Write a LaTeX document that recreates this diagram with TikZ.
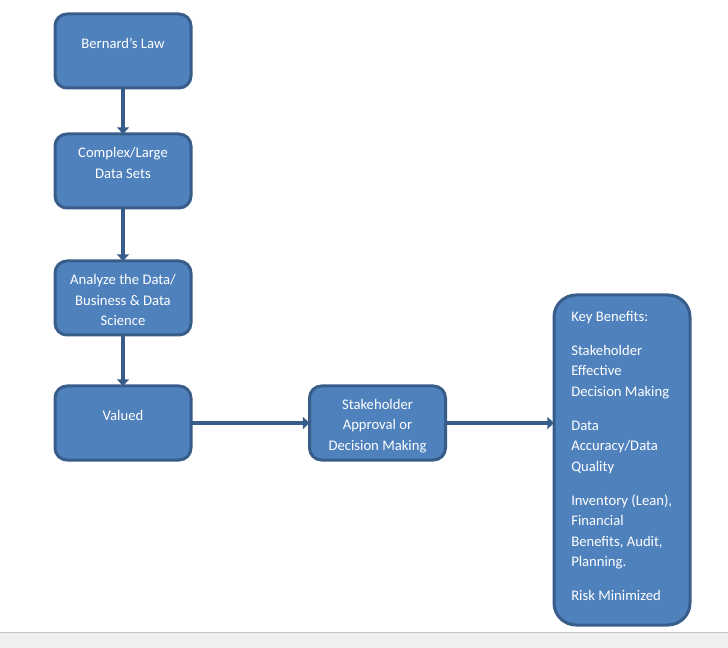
\documentclass[tikz,border=0pt]{standalone}
\usepackage{fontspec}
\setmainfont{Carlito}
\usetikzlibrary{arrows.meta}
\definecolor{BoxFill}{rgb}{0.31,0.506,0.741}
\definecolor{BoxLine}{rgb}{0.22,0.365,0.541}
\definecolor{BarClr}{rgb}{0.941,0.941,0.941}

\begin{document}
\begin{tikzpicture}[x=0.75pt,y=-0.75pt,
  blockbox/.style={draw=BoxLine,fill=BoxFill,line width=2.25pt,rounded corners=9pt,
    minimum width=102pt,minimum height=55.5pt,inner sep=0pt,outer sep=0pt},
  blocktext/.style={text=white,align=center,inner sep=0pt,
    font=\fontsize{11}{15.4}\selectfont},
  flow/.style={draw=BoxLine,line width=3.5pt,-{Triangle[length=5pt,width=9pt]}}]
\useasboundingbox (0,0) rectangle (728,648);

% status bar at the bottom
\fill[BarClr] (0,632) rectangle (728,648);
\draw[gray!45,line width=0.75pt] (0,632) -- (728,632);

% left column
\node[blockbox] (law) at (123,51) {};
\node[blocktext] (lawT) at (123,43) {Bernard’s Law};

\node[blockbox] (sets) at (123,171) {};
\node[blocktext] (setsT) at (123,163) {Complex/Large\\Data Sets};

\node[blockbox] (analyze) at (123,298) {};
\node[blocktext] (analyzeT) at (123,300) {Analyze the Data/\\Business \& Data\\Science};

\node[blockbox] (valued) at (123,423) {};
\node[blocktext] (valuedT) at (123,415) {Valued};

% approval
\node[blockbox] (approval) at (377.5,423) {};
\node[blocktext] (approvalT) at (377.5,426) {Stakeholder\\Approval or\\Decision Making};

% benefits
\node[blockbox,minimum height=247.5pt,rounded corners=16.5pt] (benefits) at (622,460) {};
\node[blocktext,align=left,anchor=west] (benefitsT) at (571,456) {Key Benefits:\\[10pt]
  Stakeholder\\Effective\\Decision Making\\[10pt]
  Data\\Accuracy/Data\\Quality\\[10pt]
  Inventory (Lean),\\Financial\\Benefits, Audit,\\Planning.\\[10pt]
  Risk Minimized};
\coordinate (benIn) at (benefits.west |- approval.east);

\draw[flow] (law.south) -- (sets.north);
\draw[flow] (sets.south) -- (analyze.north);
\draw[flow] (analyze.south) -- (valued.north);
\draw[flow] (valued.east) -- (approval.west);
\draw[flow] (approval.east) -- (benIn);

\end{tikzpicture}
\end{document}
